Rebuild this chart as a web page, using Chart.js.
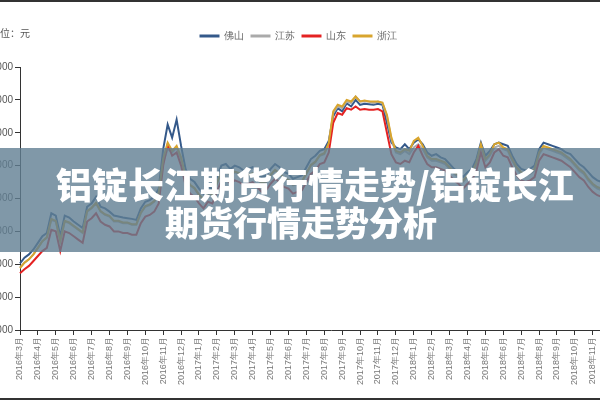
<!DOCTYPE html>
<html>
<head>
<meta charset="utf-8">
<script src="https://cdn.jsdelivr.net/npm/chart.js@4.4.1/dist/chart.umd.min.js"></script>
<style>
    html, body { margin: 0; padding: 0; background: #fff; }
    body { width: 600px; height: 400px; overflow: hidden; position: relative; font-family: "Noto Sans CJK SC", "Noto Sans", sans-serif; }
    #wrap { position: absolute; left: -45px; top: 0; width: 687px; height: 400px; }
    #unit { position: absolute; left: -10px; top: 25px; font-size: 10px; color: #555; white-space: nowrap; }
    .banner { position: absolute; left: 0; top: 148px; width: 600px; height: 104px; background: rgba(96,126,146,0.8); }
    .line { position: absolute; color: #fff; font-weight: 900; white-space: nowrap; line-height: 1; }
    .edge { position: absolute; left: 0; width: 600px; height: 2px; background: #333; }
</style>
</head>
<body>
<div id="wrap"><canvas id="priceChart"></canvas></div>
<div id="unit">单位：元</div>
<div class="banner"></div>
<div class="line" style="left:56px;top:165px;font-size:36px;">铝锭长江期货行情走势/铝锭长江</div>
<div class="line" style="left:165px;top:205px;font-size:34px;">期货行情走势分析</div>
<div class="edge" style="top:0;"></div>
<div class="edge" style="top:398px;"></div>
<script>
const months = [
    '2016年3月', '2016年4月', '2016年5月', '2016年6月', '2016年7月', '2016年8月', '2016年9月', '2016年10月', '2016年11月', '2016年12月',
    '2017年1月', '2017年2月', '2017年3月', '2017年4月', '2017年5月', '2017年6月', '2017年7月', '2017年8月', '2017年9月', '2017年10月', '2017年11月', '2017年12月',
    '2018年1月', '2018年2月', '2018年3月', '2018年4月', '2018年5月', '2018年6月', '2018年7月', '2018年8月', '2018年9月', '2018年10月', '2018年11月', '2018年12月',
    '2019年1月'
];
const pointsPerMonth = 4;

// weekly readings, 4 per month from 2016年3月
const foshan = [
    11030, 11200, 11300, 11450,  11650, 11850, 11950, 12550,  12480, 11850, 12480, 12420,  12300, 12200, 12100, 12750,
    12850, 13050, 12750, 12700,  12600, 12480, 12450, 12420,  12400, 12380, 12350, 12700,  12900, 12950, 13050, 13300,
    14500, 15250, 14850, 15400,  14600, 13900, 13600, 13500,  13300, 13150, 13350, 13300,  13650, 14000, 14050, 13900,
    14000, 13950, 13850, 13900,  13950, 13800, 13650, 13700,  13900, 14050, 13950, 13800,  13750, 13600, 13650, 13700,
    13950, 14200, 14300, 14450,  14500, 14750, 15500, 15750,  15650, 15900, 15800, 16000,  15850, 15880, 15870, 15850,
    15880, 15850, 15300, 14700,  14550, 14500, 14650, 14500,  14700, 14800, 14650, 14400,  14300, 14350, 14250, 14200,
    14050, 13900, 13800, 13650,  13800, 13900, 14200, 14700,  14300, 14450, 14650, 14700,  14650, 14600, 14300, 14050,
    13900, 13850, 13900, 14000,  14500, 14700, 14650, 14600,  14550, 14500, 14400, 14350,  14200, 14050, 13950, 13800,
    13650, 13550, 13500, 13450
];
const jiangsu = [
    10900, 11050, 11150, 11300,  11500, 11700, 11800, 12350,  12300, 11700, 12300, 12250,  12150, 12050, 11950, 12600,
    12700, 12850, 12600, 12500,  12450, 12300, 12300, 12250,  12250, 12200, 12200, 12550,  12750, 12800, 12900, 13150,
    14100, 14500, 14400, 14550,  14200, 13650, 13400, 13300,  13100, 12950, 13150, 13100,  13450, 13800, 13850, 13700,
    13800, 13750, 13650, 13700,  13750, 13600, 13450, 13500,  13700, 13850, 13750, 13600,  13550, 13400, 13450, 13500,
    13750, 14000, 14100, 14300,  14350, 14650, 15600, 15800,  15750, 15950, 15900, 16100,  15950, 15950, 15950, 15900,
    15950, 15900, 15500, 14800,  14400, 14350, 14450, 14350,  14550, 14650, 14500, 14250,  14150, 14150, 14100, 14050,
    13900, 13750, 13650, 13500,  13650, 13750, 14050, 14600,  14150, 14300, 14550, 14600,  14500, 14450, 14150, 13900,
    13750, 13700, 13750, 13850,  14350, 14550, 14500, 14450,  14400, 14350, 14250, 14150,  14000, 13850, 13750, 13550,
    13400, 13300, 13250, 13200
];
const shandong = [
    10730, 10850, 10950, 11100,  11250, 11400, 11500, 12050,  12000, 11400, 12000, 11950,  11850, 11750, 11650, 12300,
    12400, 12550, 12300, 12200,  12150, 12000, 12000, 11950,  11950, 11900, 11900, 12250,  12450, 12500, 12600, 12850,
    14000, 14650, 14300, 14400,  14000, 13400, 13150, 13050,  12850, 12700, 12900, 12850,  13200, 13550, 13600, 13450,
    13550, 13500, 13400, 13450,  13500, 13350, 13200, 13250,  13450, 13600, 13500, 13350,  13300, 13150, 13200, 13250,
    13500, 13750, 13850, 14050,  14100, 14400, 15300, 15600,  15550, 15750, 15700, 15800,  15700, 15720, 15700, 15700,
    15720, 15650, 15000, 14350,  14100, 14050, 14150, 14100,  14400, 14600, 14300, 14050,  13950, 13950, 13900, 13850,
    13700, 13550, 13450, 13300,  13450, 13550, 13850, 14400,  13950, 14100, 14400, 14500,  14300, 14250, 13950, 13700,
    13550, 13500, 13550, 13650,  14150, 14350, 14300, 14250,  14200, 14150, 14050, 13950,  13800, 13650, 13550, 13350,
    13200, 13100, 13050, 13000
];
const zhejiang = [
    10880, 11050, 11150, 11300,  11500, 11700, 11820, 12380,  12320, 11720, 12320, 12270,  12170, 12070, 11970, 12620,
    12720, 12870, 12620, 12520,  12470, 12320, 12320, 12270,  12270, 12220, 12220, 12570,  12770, 12820, 12920, 13170,
    14200, 14700, 14450, 14600,  14250, 13680, 13420, 13320,  13120, 12970, 13170, 13120,  13470, 13820, 13870, 13720,
    13820, 13770, 13670, 13720,  13770, 13620, 13470, 13520,  13720, 13870, 13770, 13620,  13570, 13420, 13470, 13520,
    13770, 14020, 14120, 14320,  14380, 14680, 15650, 15850,  15800, 16000, 15950, 16100,  15950, 15980, 15950, 15950,
    15950, 15920, 15550, 14850,  14450, 14400, 14500, 14450,  14750, 14850, 14600, 14300,  14200, 14200, 14150, 14100,
    13950, 13800, 13700, 13550,  13700, 13800, 14100, 14650,  14200, 14350, 14650, 14700,  14550, 14500, 14200, 13950,
    13800, 13750, 13800, 13900,  14400, 14600, 14550, 14500,  14450, 14400, 14300, 14200,  14050, 13900, 13800, 13600,
    13450, 13350, 13300, 13250
];
const yMin = 9000;
const yMax = 17000;
const yStep = 1000;

const labels = [];
months.forEach(m => {
    labels.push(m);
    for (let k = 1; k < pointsPerMonth; k++) labels.push('');
});

const series = [
    { label: '佛山', data: foshan, color: '#34598a', order: 3 },
    { label: '江苏', data: jiangsu, color: '#aaaaaa', order: 2 },
    { label: '山东', data: shandong, color: '#e42222', order: 1 },
    { label: '浙江', data: zhejiang, color: '#d8a52e', order: 0 }
];

// leave a gap between the legend and the plot
const legendGap = {
    id: 'legendGap',
    beforeInit(chart) {
        const fit = chart.legend.fit;
        chart.legend.fit = function () {
            fit.call(this);
            this.height += 16;
        };
    }
};

const ctx = document.getElementById('priceChart').getContext('2d');
new Chart(ctx, {
    type: 'line',
    data: {
        labels: labels,
        datasets: series.map(s => ({
            label: s.label,
            data: s.data,
            borderColor: s.color,
            backgroundColor: s.color,
            borderWidth: 2,
            pointRadius: 0,
            tension: 0,
            order: s.order
        }))
    },
    options: {
        responsive: true,
        maintainAspectRatio: false,
        animation: false,
        layout: { padding: { top: 23, left: 0, right: 0, bottom: 0 } },
        plugins: {
            legend: {
                labels: {
                    boxWidth: 18, boxHeight: 1, padding: 8,
                    font: { size: 10 }, color: '#666',
                    sort: (a, b) => a.datasetIndex - b.datasetIndex
                }
            },
            tooltip: { enabled: false }
        },
        scales: {
            x: {
                grid: { drawOnChartArea: false, tickLength: 5, color: '#333' },
                border: { color: '#333' },
                ticks: {
                    autoSkip: false, maxRotation: 90, minRotation: 90, padding: 2,
                    font: { size: 9 }, color: '#777',
                    callback: (v, i) => labels[i] || null
                },
                afterFit: s => { s.height = 70; }
            },
            y: {
                min: yMin, max: yMax,
                grid: { drawOnChartArea: false, tickLength: 5, color: '#333' },
                border: { color: '#333' },
                ticks: { stepSize: yStep, font: { size: 10 }, color: '#555', padding: 2 },
                afterFit: s => { s.width = 65; }
            }
        }
    },
    plugins: [legendGap]
});
</script>
</body>
</html>
